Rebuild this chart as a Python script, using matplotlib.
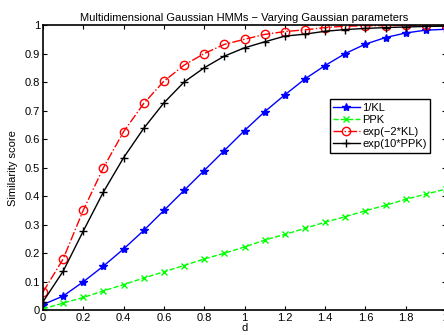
import matplotlib
matplotlib.use("Agg")
import matplotlib.pyplot as plt
import numpy as np

plt.rcParams['font.family'] = ['Liberation Sans', 'DejaVu Sans']

d = [0.0, 0.1, 0.2, 0.3, 0.4, 0.5, 0.6, 0.7, 0.8, 0.9, 1.0,
     1.1, 1.2, 1.3, 1.4, 1.5, 1.6, 1.7, 1.8, 1.9, 2.0]
inv_kl = [0.02, 0.05, 0.10, 0.155, 0.215, 0.28, 0.35, 0.42, 0.49, 0.56, 0.63,
          0.696, 0.755, 0.811, 0.858, 0.900, 0.933, 0.956, 0.972, 0.982, 0.985]
ppk = [0.005, 0.025, 0.045, 0.068, 0.09, 0.113, 0.135, 0.157, 0.18, 0.20, 0.222,
       0.246, 0.266, 0.287, 0.309, 0.328, 0.349, 0.368, 0.389, 0.407, 0.425]
exp_kl = [0.064, 0.18, 0.351, 0.50, 0.626, 0.725, 0.803, 0.859, 0.900, 0.932, 0.950,
          0.967, 0.977, 0.983, 0.991, 0.996, 0.997, 0.998, 0.999, 0.999, 1.0]
exp_ppk = [0.03, 0.137, 0.278, 0.415, 0.535, 0.638, 0.727, 0.80, 0.85, 0.891, 0.92,
           0.941, 0.961, 0.968, 0.978, 0.984, 0.988, 0.991, 0.993, 0.995, 0.996]

labels = ['1/KL', 'PPK', 'exp(\u22122*KL)', 'exp(10*PPK)']
title = 'Multidimensional Gaussian HMMs \u2212 Varying Gaussian parameters'
xticks = [0, 0.2, 0.4, 0.6, 0.8, 1.0, 1.2, 1.4, 1.6, 1.8, 2.0]
xticklabels = ['0', '0.2', '0.4', '0.6', '0.8', '1', '1.2', '1.4', '1.6', '1.8', '2']
yticks = [0, 0.1, 0.2, 0.3, 0.4, 0.5, 0.6, 0.7, 0.8, 0.9, 1.0]
yticklabels = ['0', '0.1', '0.2', '0.3', '0.4', '0.5', '0.6', '0.7', '0.8', '0.9', '1']

fig = plt.figure(figsize=(4.44, 3.35), dpi=100)
W, H = 444, 335
ax = fig.add_axes([43 / W, (H - 310.3) / H, (446 - 43) / W, (310.3 - 25) / H])

ax.plot(d, inv_kl, color='#0000ff', ls='-', lw=1.0, marker='*', ms=6, label=labels[0])
ax.plot(d, ppk, color='#00ff00', ls='--', lw=1.0, marker='x', ms=4, mew=1.0, label=labels[1])
ax.plot(d, exp_kl, color='#ff0000', ls='-.', lw=1.0, marker='o', ms=6, mfc='none', mew=1.0, label=labels[2])
ax.plot(d, exp_ppk, color='black', ls='-', lw=1.0, marker='+', ms=6, mew=1.0, label=labels[3])

ax.set_xlim(0, 2)
ax.set_ylim(0, 1)
ax.set_xticks(xticks)
ax.set_xticklabels(xticklabels)
ax.set_yticks(yticks)
ax.set_yticklabels(yticklabels)
ax.tick_params(direction='in', top=True, right=True, labelsize=8, length=3, pad=2)
for s in ax.spines.values():
    s.set_linewidth(1.2)
ax.set_xlabel('d', fontsize=8, labelpad=0)
ax.set_ylabel('Similarity score', fontsize=8, labelpad=5)
ax.set_title(title, fontsize=8, pad=3)

leg = ax.legend(loc='upper right', bbox_to_anchor=(0.96, 0.74), fontsize=8,
                frameon=True, fancybox=False, edgecolor='black', framealpha=1,
                handlelength=2.4, handletextpad=0.2, borderpad=0.3, labelspacing=0.2,
                borderaxespad=0)
leg.get_frame().set_linewidth(1.0)

fig.savefig('out.png', dpi=100)
